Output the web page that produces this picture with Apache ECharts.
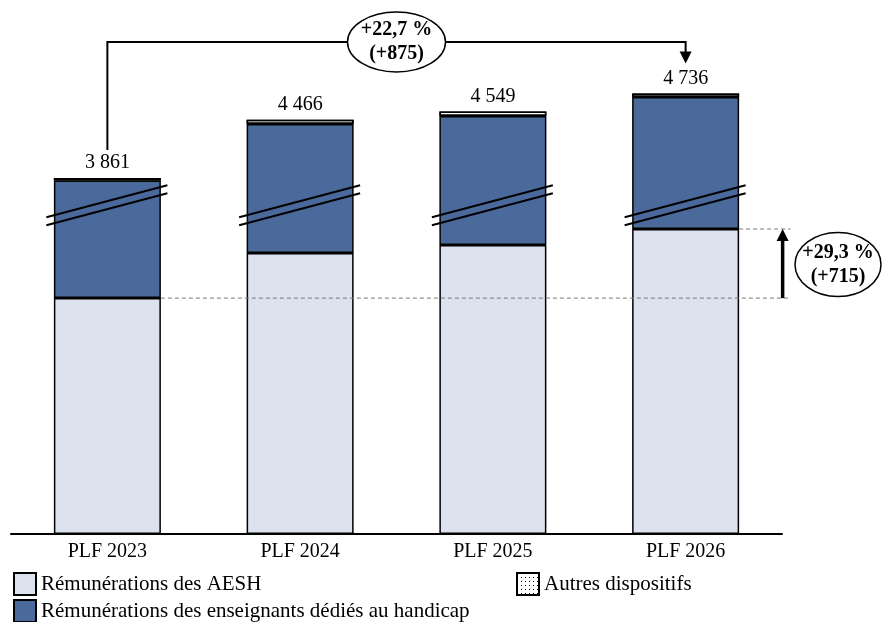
<!DOCTYPE html>
<html>
<head>
<meta charset="utf-8">
<script src="https://cdn.jsdelivr.net/npm/echarts@6/dist/echarts.min.js"></script>
<style>
  html, body { margin: 0; padding: 0; background: #fff; }
  #chart { width: 883px; height: 622px; }
</style>
</head>
<body>
<div id="chart"></div>
<script>
// données (M€)
const years = ['PLF 2023', 'PLF 2024', 'PLF 2025', 'PLF 2026'];
const aesh = [2440, 2906, 2989, 3155];
const enseignants = [1396, 1515, 1515, 1546];
const autres = [25, 45, 45, 35];
const totals = [3861, 4466, 4549, 4736];
// rupture d'échelle
const breakStart = 3400;
const breakEnd = 3580;

const FONT = '"Liberation Serif", serif';
const fmt = n => String(n).replace(/\B(?=(\d{3})+(?!\d))/g, ' ');
const pct = (a, b) => '+' + ((b - a) / a * 100).toFixed(1).replace('.', ',') + ' %';

const chart = echarts.init(document.getElementById('chart'));

const legendItem = (name, left, top) => ({
  data: [name], left: left, top: top,
  itemWidth: 22, itemHeight: 22, icon: 'rect',
  textStyle: { fontFamily: FONT, fontSize: 21, color: '#000' }
});

const option = {
  animation: false,
  textStyle: { fontFamily: FONT, color: '#000' },
  grid: { left: 11, right: 101, top: 68, bottom: 88 },
  legend: [
    legendItem('Rémunérations des AESH', 8, 567),
    legendItem('Rémunérations des enseignants dédiés au handicap', 8, 594),
    legendItem('Autres dispositifs', 511, 567)
  ],
  xAxis: {
    type: 'category',
    data: years,
    axisLine: { lineStyle: { color: '#000', width: 2 } },
    axisTick: { show: false },
    axisLabel: { fontFamily: FONT, fontSize: 20, color: '#000', margin: 8 }
  },
  yAxis: {
    type: 'value',
    min: 0, max: 5000,
    axisLine: { show: false },
    axisTick: { show: false },
    axisLabel: { show: false },
    splitLine: { show: false },
    breaks: [{ start: breakStart, end: breakEnd, gap: 0 }],
    breakArea: { show: false }
  },
  series: [
    {
      name: 'Rémunérations des AESH', type: 'bar', stack: 'tot', barWidth: 107,
      data: aesh,
      itemStyle: { color: '#dde3ee', borderColor: '#000', borderWidth: 1.5 }
    },
    {
      name: 'Rémunérations des enseignants dédiés au handicap', type: 'bar', stack: 'tot', barWidth: 107,
      data: enseignants,
      itemStyle: { color: '#4a6a9b', borderColor: '#000', borderWidth: 1.5 }
    },
    {
      name: 'Autres dispositifs', type: 'bar', stack: 'tot', barWidth: 107,
      data: autres,
      itemStyle: {
        color: '#fff', borderColor: '#000', borderWidth: 1.5,
        decal: { symbol: 'rect', symbolSize: 1, color: '#000', dashArrayX: [1, 3], dashArrayY: [1, 3] }
      },
      label: {
        show: true, position: 'top', distance: 5,
        fontFamily: FONT, fontSize: 20, color: '#000',
        formatter: p => fmt(totals[p.dataIndex])
      }
    },
    {
      // traits de rupture d'échelle
      type: 'custom', z: 10, silent: true,
      data: years.map((y, i) => [i, breakStart]),
      renderItem: (params, api) => {
        const p = api.coord([api.value(0), api.value(1)]);
        const x = p[0], y = p[1];
        const st = { stroke: '#000', lineWidth: 2 };
        return {
          type: 'group',
          children: [
            { type: 'line', shape: { x1: x - 61, y1: y + 12, x2: x + 60, y2: y - 20 }, style: st },
            { type: 'line', shape: { x1: x - 61, y1: y + 20, x2: x + 60, y2: y - 12 }, style: st }
          ]
        };
      }
    }
  ]
};

chart.setOption(option);

// annotations
const px = v => chart.convertToPixel({ gridIndex: 0 }, v);
const t0 = px([0, totals[0]]);
const t3 = px([3, totals[3]]);
const a0 = px([0, aesh[0]]);
const a3 = px([3, aesh[3]]);
const half = 107 / 2;
const topY = 42;
const arrowX = a3[0] + 97;
const tip3 = t3[1] - 30;
const midX = (t0[0] + t3[0]) / 2;
const boldFont = 'bold 20px ' + FONT;

chart.setOption({
  graphic: [
    { type: 'polyline', z: 20,
      shape: { points: [[t0[0], t0[1] - 28], [t0[0], topY], [t3[0], topY], [t3[0], tip3 - 10]] },
      style: { stroke: '#000', lineWidth: 2, fill: null } },
    { type: 'polygon', z: 20,
      shape: { points: [[t3[0] - 6, tip3 - 12], [t3[0] + 6, tip3 - 12], [t3[0], tip3]] },
      style: { fill: '#000' } },
    { type: 'ellipse', z: 21, shape: { cx: midX, cy: topY, rx: 49, ry: 30 },
      style: { fill: '#fff', stroke: '#000', lineWidth: 1.5 } },
    { type: 'text', z: 22, x: midX, y: topY,
      style: { text: pct(totals[0], totals[3]) + '\n(+' + (totals[3] - totals[0]) + ')',
        font: boldFont, fill: '#000', align: 'center', verticalAlign: 'middle', lineHeight: 24 } },

    { type: 'line', z: 20, shape: { x1: a0[0] + half, y1: a0[1], x2: arrowX + 8, y2: a0[1] },
      style: { stroke: '#777', lineWidth: 1, lineDash: [4, 3] } },
    { type: 'line', z: 20, shape: { x1: a3[0] + half, y1: a3[1], x2: arrowX + 8, y2: a3[1] },
      style: { stroke: '#777', lineWidth: 1, lineDash: [4, 3] } },
    { type: 'line', z: 20, shape: { x1: arrowX, y1: a0[1], x2: arrowX, y2: a3[1] + 10 },
      style: { stroke: '#000', lineWidth: 3.5 } },
    { type: 'polygon', z: 20,
      shape: { points: [[arrowX - 6, a3[1] + 12], [arrowX + 6, a3[1] + 12], [arrowX, a3[1]]] },
      style: { fill: '#000' } },
    { type: 'ellipse', z: 21, shape: { cx: 838, cy: (a0[1] + a3[1]) / 2 + 1, rx: 43, ry: 32 },
      style: { fill: '#fff', stroke: '#000', lineWidth: 1.5 } },
    { type: 'text', z: 22, x: 838, y: (a0[1] + a3[1]) / 2 + 1,
      style: { text: pct(aesh[0], aesh[3]) + '\n(+' + (aesh[3] - aesh[0]) + ')',
        font: boldFont, fill: '#000', align: 'center', verticalAlign: 'middle', lineHeight: 24 } }
  ]
});
</script>
</body>
</html>
